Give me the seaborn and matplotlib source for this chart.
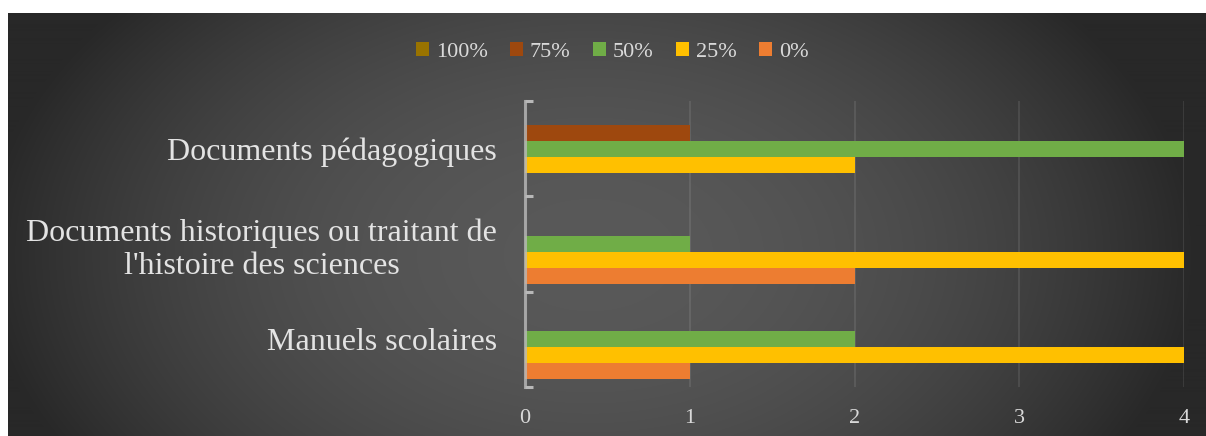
import numpy as np
import pandas as pd
import matplotlib
matplotlib.use("Agg")
import matplotlib.pyplot as plt
from matplotlib.patches import Patch
import seaborn as sns

categories = ["Documents pédagogiques",
              "Documents historiques ou traitant de\nl'histoire des sciences",
              "Manuels scolaires"]
levels = ["100%", "75%", "50%", "25%", "0%"]
v100 = [0, 0, 0]
v75 = [1, 0, 0]
v50 = [4, 1, 2]
v25 = [2, 4, 4]
v0 = [0, 2, 1]
colors = ["#997300", "#9e480e", "#70ad47", "#ffc000", "#ed7d31"]
xticks = [0, 1, 2, 3, 4]

series = dict(zip(levels, [v100, v75, v50, v25, v0]))
rows = []
for lev in levels:
    for cat, val in zip(categories, series[lev]):
        rows.append({"cat": cat, "level": lev, "val": val})
df = pd.DataFrame(rows)

sns.set_theme(style="white")
plt.rcParams["font.family"] = ["Liberation Serif", "DejaVu Serif"]

W, H = 1206, 436
fig = plt.figure(figsize=(W / 100, H / 100), dpi=100, facecolor="white")

# background gradient panel
x0, y0 = 8, 13
bg = fig.add_axes([x0 / W, 0, (W - x0) / W, (H - y0) / H], zorder=0)
xs = np.arange(x0, W)
ys = np.arange(y0, H)
XX, YY = np.meshgrid(xs, ys)
val = 89 - 1.33e-4 * (XX - 590) ** 2 - 3.2e-4 * (YY - 255) ** 2
val = np.clip(val, 40, 255) / 255.0
img = np.dstack([val, val, val])
bg.imshow(img, aspect="auto", extent=(0, 1, 0, 1), origin="upper")
bg.set_axis_off()

ax = fig.add_axes([525 / W, 1 - 387 / H, (1184 - 525) / W, (387 - 101) / H], zorder=1)
ax.set_facecolor("none")

sns.barplot(data=df, y="cat", x="val", hue="level", hue_order=levels,
            order=categories, orient="h", palette=colors, width=0.84,
            saturation=1, dodge=True, legend=False, ax=ax, linewidth=0)

ax.set_xlim(0, 4)
ax.set_ylim(2.5, -0.5)
ax.set_xticks(xticks)
ax.set_xticklabels([str(t) for t in xticks])
ax.set_xlabel("")
ax.set_ylabel("")
ax.xaxis.grid(True, color="white", alpha=0.11, linewidth=1.2)
ax.set_axisbelow(True)
for s in ["top", "right", "bottom"]:
    ax.spines[s].set_visible(False)
ax.spines["left"].set_color("#b8b8b8")
ax.spines["left"].set_alpha(0.8)
ax.spines["left"].set_linewidth(2.2)

ax.tick_params(axis="x", length=0, pad=16, labelsize=16, labelcolor="#d9d9d9")
ax.tick_params(axis="y", which="major", left=False, length=0, pad=20, labelsize=23,
               labelcolor="#e3e3e3")
ax.set_yticks([-0.5, 0.5, 1.5, 2.5], minor=True)
ax.tick_params(axis="y", which="minor", left=True, direction="in", length=5.5,
               width=2.2, color="#b8b8b8")
for lab in ax.get_yticklabels():
    lab.set_multialignment("center")

handles = [Patch(facecolor=c, edgecolor="none", label=l) for c, l in zip(colors, levels)]
fig.legend(handles=handles, loc="center", bbox_to_anchor=(612 / W, 1 - 52 / H), ncol=5,
           frameon=False, fontsize=16, labelcolor="#d9d9d9", handlelength=0.6,
           handleheight=0.6, handletextpad=0.3, columnspacing=1.0)

fig.savefig("out.png", dpi=100, facecolor="white")
